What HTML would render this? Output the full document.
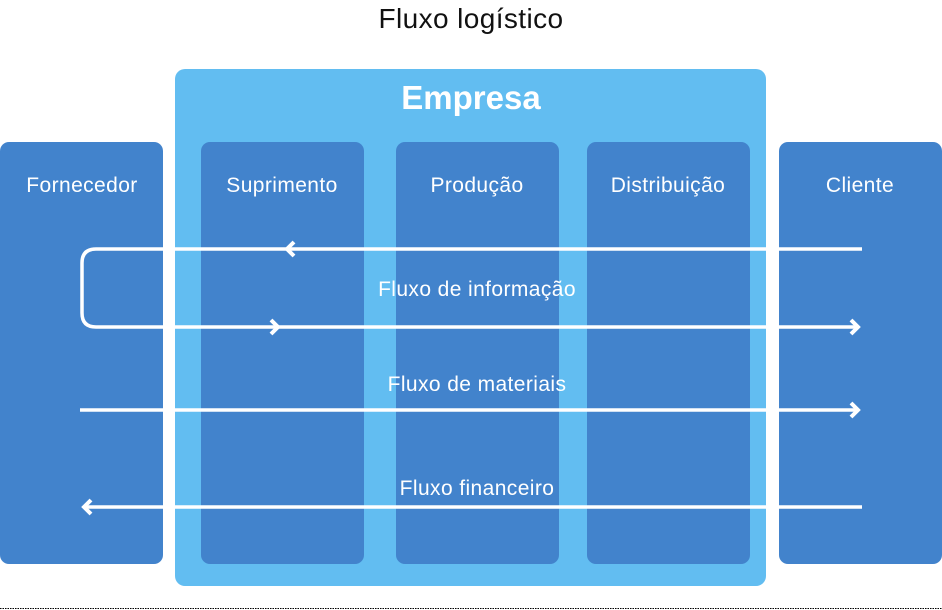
<!DOCTYPE html>
<html><head><meta charset="utf-8"><style>
html,body{margin:0;padding:0;background:#fff;width:942px;height:610px;overflow:hidden}
text{font-family:"Liberation Sans",sans-serif}
</style></head><body>
<svg width="942" height="610" viewBox="0 0 942 610" xmlns="http://www.w3.org/2000/svg">
<text x="471" y="28" font-size="28" letter-spacing="0.4" text-anchor="middle" fill="#111">Fluxo logístico</text>
<rect x="0" y="142" width="163" height="422" rx="9" fill="#4283cc"/>
<rect x="175" y="69" width="591" height="517" rx="10" fill="#62bdf1"/>
<rect x="201" y="142" width="163" height="422" rx="9" fill="#4283cc"/>
<rect x="396" y="142" width="163" height="422" rx="9" fill="#4283cc"/>
<rect x="587" y="142" width="163" height="422" rx="9" fill="#4283cc"/>
<rect x="779" y="142" width="163" height="422" rx="9" fill="#4283cc"/>
<text x="471" y="109" font-size="33" font-weight="bold" text-anchor="middle" fill="#fff">Empresa</text>
<g font-size="21" letter-spacing="0.4" fill="#fff" text-anchor="middle">
<text x="82" y="192">Fornecedor</text>
<text x="282" y="192">Suprimento</text>
<text x="477" y="192">Produção</text>
<text x="668" y="192">Distribuição</text>
<text x="860" y="192">Cliente</text>
<text x="477" y="296">Fluxo de informação</text>
<text x="477" y="391">Fluxo de materiais</text>
<text x="477" y="495">Fluxo financeiro</text>
</g>
<g stroke="#fff" stroke-width="3.5" fill="none" stroke-linecap="butt">
<path d="M862 249 H96 Q82 249 82 263 V313 Q82 327 96 327 H858"/>
<path d="M80 410 H858"/>
<path d="M862 507 H84"/>
</g>
<g stroke="#fff" stroke-width="4" fill="none" stroke-linejoin="miter">
<path d="M294 242 L287 249 L294 256"/>
<path d="M271 320 L278 327 L271 334"/>
<path d="M851 320 L858 327 L851 334"/>
<path d="M851 403 L858 410 L851 417"/>
<path d="M91 500 L84 507 L91 514"/>
</g>
<line x1="0" y1="608.5" x2="942" y2="608.5" stroke="#000" stroke-width="1" stroke-dasharray="1.5,1"/>
</svg>
</body></html>
